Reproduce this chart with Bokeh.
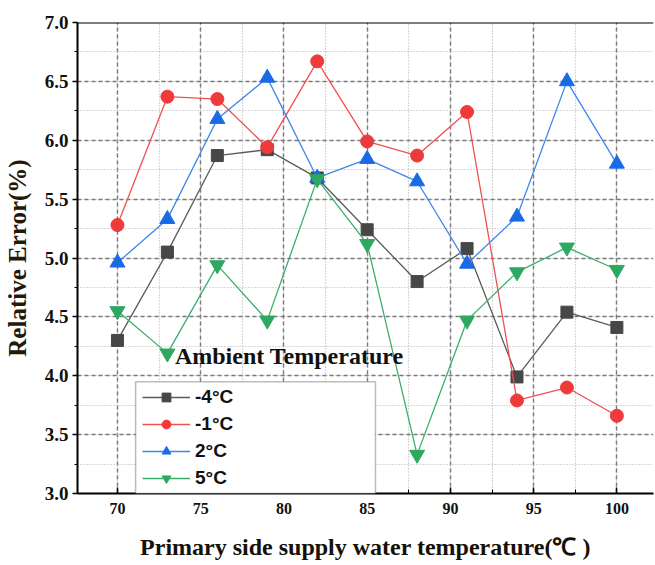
from bokeh.plotting import figure
from bokeh.models import (SingleIntervalTicker, Range1d, Legend, LegendItem,
                          BoxAnnotation, Label, Span, NumeralTickFormatter)
from bokeh.embed import file_html
from bokeh.resources import INLINE

# Primary side supply water temperature (°C)
supply_temp = [70, 73, 76, 79, 82, 85, 88, 91, 94, 97, 100]

# Relative error (%) for each ambient temperature
err_m4 = [4.30, 5.05, 5.87, 5.92, 5.68, 5.24, 4.80, 5.08, 3.99, 4.54, 4.41]
err_m1 = [5.28, 6.37, 6.35, 5.94, 6.67, 5.99, 5.87, 6.24, 3.79, 3.90, 3.66]
err_p2 = [4.96, 5.33, 6.18, 6.53, 5.68, 5.84, 5.65, 4.95, 5.35, 6.50, 5.80]
err_p5 = [4.55, 4.19, 4.94, 4.47, 5.67, 5.12, 3.33, 4.47, 4.88, 5.09, 4.90]

series_labels = ["-4°C", "-1°C", "2°C", "5°C"]

SERIF = "Liberation Serif"
SANS = "Liberation Sans"

p = figure(width=655, height=565, output_backend="svg", toolbar_location=None,
           x_range=Range1d(67.6, 102.2), y_range=Range1d(3.0, 7.0),
           min_border_left=77, min_border_right=2, min_border_top=22,
           min_border_bottom=72)
p.outline_line_color = None
p.background_fill_color = "white"

# axes
p.xaxis.ticker = SingleIntervalTicker(interval=5, num_minor_ticks=2)
p.yaxis.ticker = SingleIntervalTicker(interval=0.5, num_minor_ticks=2)
p.yaxis.formatter = NumeralTickFormatter(format="0.0")

for ax in (p.xaxis[0], p.yaxis[0]):
    ax.axis_line_color = "black"
    ax.axis_line_width = 2
    ax.major_tick_line_color = "black"
    ax.minor_tick_line_color = "black"
    ax.major_tick_line_width = 1.5
    ax.minor_tick_line_width = 1
    ax.major_label_text_font = SERIF
    ax.major_label_text_font_style = "bold"
    ax.major_label_text_color = "#111111"
    ax.axis_label_text_font = SERIF
    ax.axis_label_text_font_style = "bold"

p.xaxis.major_tick_in = 6
p.xaxis.major_tick_out = 0
p.xaxis.minor_tick_in = 4
p.xaxis.minor_tick_out = 0
p.xaxis.major_label_text_font_size = "16px"
p.xaxis.major_label_standoff = 9
p.xaxis.axis_label = "Primary side supply water temperature(℃ )"
p.xaxis.axis_label_text_font_size = "24px"
p.xaxis.axis_label_text_color = "#151008"
p.xaxis.axis_label_standoff = 17

p.yaxis.major_tick_in = 0
p.yaxis.major_tick_out = 5
p.yaxis.minor_tick_in = 0
p.yaxis.minor_tick_out = 3
p.yaxis.major_label_text_font_size = "19px"
p.yaxis.major_label_standoff = 4
p.yaxis.axis_label = "Relative Error(%)"
p.yaxis.axis_label_text_font_size = "25px"
p.yaxis.axis_label_text_color = "#241808"
p.yaxis.axis_label_standoff = 11

# grids: dashed major, dotted minor
for g in (p.xgrid[0], p.ygrid[0]):
    g.grid_line_color = "#7a7a7a"
    g.grid_line_dash = "4 3"
    g.grid_line_width = 1.4
    g.minor_grid_line_color = "#b0b0b0"
    g.minor_grid_line_dash = "1 2"
    g.minor_grid_line_width = 1.2

# top border
p.add_layout(Span(location=7.0, dimension="width", line_color="black", line_width=2))

styles = [
    (err_m4, "#5a5a5a", "#474747", "square", 12),
    (err_m1, "#f25050", "#ee3a3a", "circle", 13),
    (err_p2, "#3f86ea", "#1a6ae6", "triangle", 15),
    (err_p5, "#3aae6a", "#2ea860", "inverted_triangle", 15),
]

items = []
for (vals, lcol, mcol, marker, size), lab in zip(styles, series_labels):
    ln = p.line(supply_temp, vals, line_color=lcol, line_width=1.3)
    sc = p.scatter(supply_temp, vals, marker=marker, size=size,
                   fill_color=mcol, line_color=mcol)
    items.append(LegendItem(label=lab, renderers=[ln, sc]))

# legend frame
p.add_layout(BoxAnnotation(left=71.09, right=85.5, bottom=3.0, top=3.95,
                           fill_color="white", fill_alpha=1.0,
                           line_color="#222222", line_width=1.5))

legend = Legend(items=items, location=(60, -1), orientation="vertical",
                border_line_alpha=0, background_fill_alpha=0,
                padding=5, margin=0, spacing=5,
                glyph_width=48, glyph_height=22, label_height=22,
                label_standoff=5,
                label_text_font=SANS, label_text_font_style="bold",
                label_text_font_size="19px", label_text_color="#111111")
p.add_layout(legend, "center")

p.add_layout(Label(x=73.45, y=4.17, text="Ambient Temperature",
                   text_font=SERIF, text_font_style="bold",
                   text_font_size="24px", text_color="#111111",
                   text_baseline="middle"))

open("out.html", "w").write(file_html(p, INLINE))
